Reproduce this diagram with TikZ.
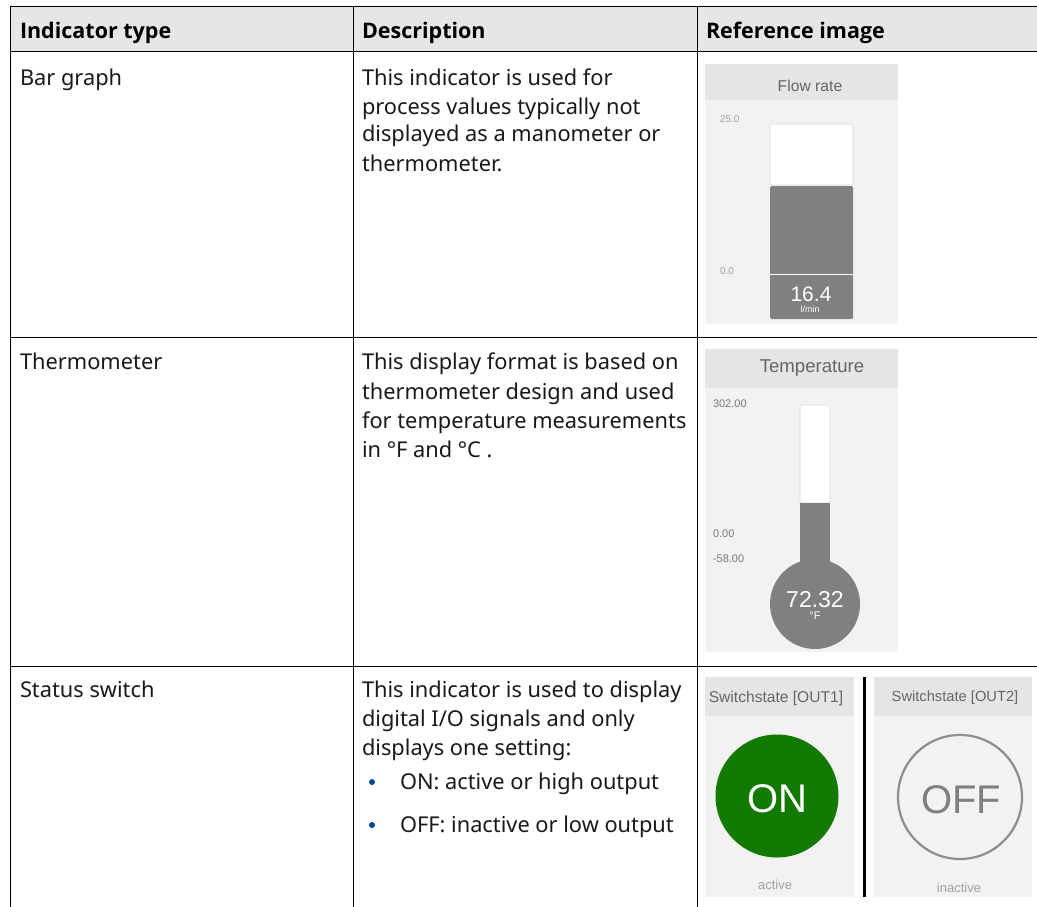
\documentclass[tikz,border=0pt]{standalone}
\usepackage{fontspec}
\setmainfont{Noto Sans}
\newfontfamily\headfont{Open Sans}
\newfontfamily\uifont{Liberation Sans}
\definecolor{headgrey}{HTML}{E6E6E6}
\definecolor{panel}{HTML}{F2F2F2}
\definecolor{panelhead}{HTML}{E5E5E5}
\definecolor{gaugegrey}{HTML}{808080}
\definecolor{labelgrey}{HTML}{777777}
\definecolor{titlegrey}{HTML}{666666}
\definecolor{ongreen}{HTML}{127A00}
\definecolor{bulletblue}{HTML}{004B8D}
\tikzset{
  rule/.style={draw=black,line width=1pt},
  cell/.style={anchor=base west,inner sep=0pt,outer sep=0pt,font=\fontsize{21.8}{29}\selectfont,text=black!90},
  headcell/.style={cell,font=\headfont\fontsize{21.5}{29}\selectfont\bfseries,text=black},
  panelbg/.style={fill=panel,draw=none},
  panelhd/.style={fill=panelhead,draw=none},
  gaugefill/.style={fill=gaugegrey,draw=none},
  uitext/.style={inner sep=0pt,outer sep=0pt,font=\uifont\fontsize{#1}{#1}\selectfont},
  bulletdot/.style={circle,fill=bulletblue,draw=none,minimum size=6pt,inner sep=0pt},
  softedge/.style={draw=black!15,line width=0.6pt}
}
\begin{document}
\begin{tikzpicture}[x=1pt,y=-1pt]
\useasboundingbox (0,0) rectangle (1037,907);
\fill[white] (0,0) rectangle (1037,907);
% header band
\fill[headgrey] (10,7) rectangle (1037,52);
% rules
\draw[rule] (10,7) -- (1037,7);
\draw[rule] (10,52) -- (1037,52);
\draw[rule] (10,337) -- (1037,337);
\draw[rule] (10,666) -- (1037,666);
\draw[rule] (10,7) -- (10,907);
\draw[rule] (353,7) -- (353,907);
\draw[rule] (697,7) -- (697,907);
% header
\node[headcell] (h1) at (20,39) {Indicator type};
\node[headcell] (h2) at (362,39) {Description};
\node[headcell] (h3) at (706,39) {Reference image};
% col 1
\node[cell] (t1) at (20,85) {Bar graph};
\node[cell] (t2) at (20,369) {Thermometer};
\node[cell] (t3) at (20,697) {Status switch};
% col 2
\node[cell] (d1a) at (362,85) {This indicator is used for};
\node[cell] (d1b) at (362,114) {process values typically not};
\node[cell] (d1c) at (362,142) {displayed as a manometer or};
\node[cell] (d1d) at (362,171) {thermometer.};
\node[cell] (d2a) at (362,369) {This display format is based on};
\node[cell] (d2b) at (362,399) {thermometer design and used};
\node[cell] (d2c) at (362,428) {for temperature measurements};
\node[cell] (d2d) at (362,457) {in °F and °C .};
\node[cell] (d3a) at (362,697) {This indicator is used to display};
\node[cell] (d3b) at (362,726) {digital I/O signals and only};
\node[cell] (d3c) at (362,755) {displays one setting:};
\node[bulletdot] (b1) at (372,782) {};
\node[cell] (d3d) at (400,789) {ON: active or high output};
\node[bulletdot] (b2) at (372,825) {};
\node[cell] (d3e) at (400,832) {OFF: inactive or low output};
% bar graph panel
\fill[panelbg] (705,64) rectangle (898,324);
\fill[panelhd] (705,64) rectangle (898,100);
\node[uitext=15.7,text=titlegrey] (fr) at (810,86) {Flow rate};
\node[uitext=10,text=labelgrey!70,anchor=west] (fa) at (720,119) {25.0};
\node[uitext=10,text=labelgrey!70,anchor=west] (fb) at (720,271) {0.0};
\filldraw[fill=white,softedge,rounded corners=1.5pt] (770,124) rectangle (853,185);
\fill[gaugefill,rounded corners=1.5pt] (770,186) rectangle (853,319);
\draw[white,line width=1pt] (770,274) -- (853,274);
\node[uitext=21,text=white] (fv) at (811,294) {16.4};
\node[uitext=9,text=white] (fu) at (810,309) {l/min};
% thermometer panel
\fill[panelbg] (705,349) rectangle (898,652);
\fill[panelhd] (705,349) rectangle (898,388);
\node[uitext=18.6,text=titlegrey] (tt) at (812,368) {Temperature};
\node[uitext=11,text=labelgrey,anchor=west] (ta) at (713,404) {302.00};
\node[uitext=11,text=labelgrey,anchor=west] (tb) at (713,534) {0.00};
\node[uitext=11,text=labelgrey,anchor=west] (tc) at (713,559) {-58.00};
\filldraw[fill=white,softedge,rounded corners=2pt] (800,405) rectangle (830,503);
\fill[gaugefill] (800,503) rectangle (830,575);
\fill[gaugefill] (815,604) circle[radius=45];
\node[uitext=23,text=white] (tv) at (815,600) {72.32};
\node[uitext=11,text=white] (tu) at (815,616) {°F};
% switch panels
\fill[panelbg] (705,677) rectangle (854,897);
\fill[panelhd] (705,677) rectangle (854,716);
\node[uitext=15.6,text=titlegrey] (s1) at (776,698) {Switchstate [OUT1]};
\fill[ongreen] (777,796) circle[radius=61.5];
\node[uitext=40,text=white] (on) at (777,799) {ON};
\node[uitext=13,text=labelgrey!70] (s1b) at (775,885) {active};
\draw[black,line width=3pt] (864,677) -- (864,897);
\fill[panelbg] (874,677) rectangle (1032,897);
\fill[panelhd] (874,677) rectangle (1032,716);
\node[uitext=14.7,text=titlegrey] (s2) at (955,698) {Switchstate [OUT2]};
\draw[draw=gaugegrey!90,line width=2.2pt] (960,797) circle[radius=62];
\node[uitext=40,text=gaugegrey] (off) at (961,800) {OFF};
\node[uitext=13,text=labelgrey!70] (s2b) at (959,888) {inactive};
\end{tikzpicture}
\end{document}
